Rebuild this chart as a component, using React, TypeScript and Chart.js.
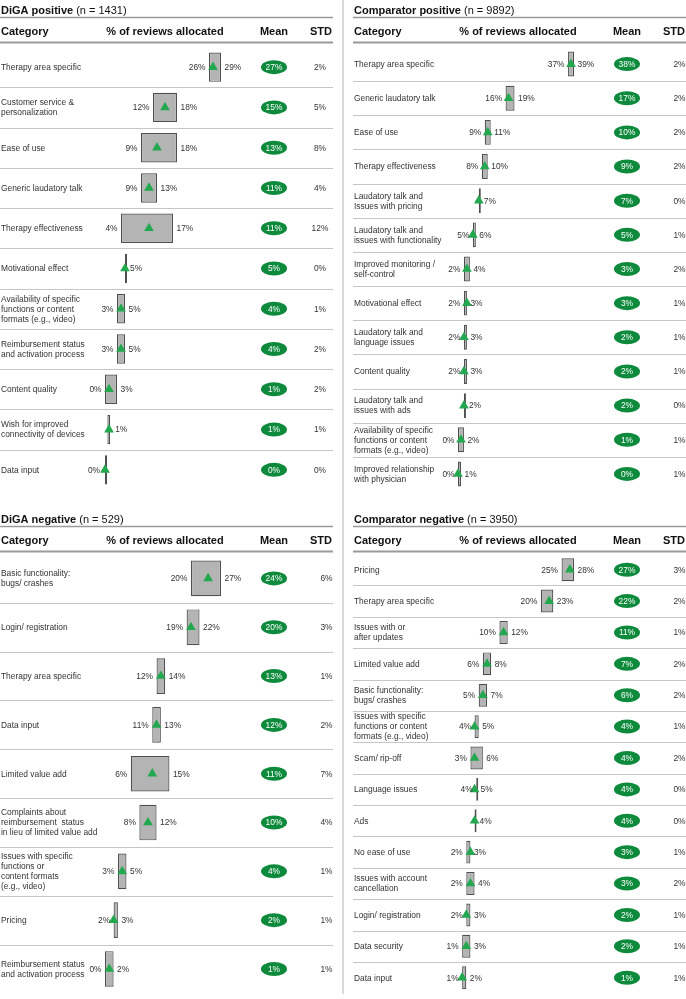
import React, { useEffect, useRef } from "react";
import { Chart, registerables } from "chart.js";

Chart.register(...registerables);

const FONT = '"Liberation Sans", Arial, Helvetica, sans-serif';
const TRI_GREEN = "#22a84e";
const MEAN_GREEN = "#0e8a3c";
const W = 333;

// ---------- DiGA positive ----------
const digaPosTitle = "DiGA positive";
const digaPosN = "(n = 1431)";
const digaPosCategories: string[][] = [
  ["Therapy area specific"],
  ["Customer service &", "personalization"],
  ["Ease of use"],
  ["Generic laudatory talk"],
  ["Therapy effectiveness"],
  ["Motivational effect"],
  ["Availability of specific", "functions or content", "formats (e.g., video)"],
  ["Reimbursement status", "and activation process"],
  ["Content quality"],
  ["Wish for improved", "connectivity of devices"],
  ["Data input"],
];
const digaPosMin = [26, 12, 9, 9, 4, 5, 3, 3, 0, 0.6, 0];
const digaPosMax = [29, 18, 18, 13, 17, 5, 5, 5, 3, 1.3, 0];
const digaPosMean = [27, 15, 13, 11, 11, 5, 4, 4, 1, 1, 0];
const digaPosStd = [2, 5, 8, 4, 12, 0, 1, 2, 2, 1, 0];

// ---------- Comparator positive ----------
const compPosTitle = "Comparator positive";
const compPosN = "(n = 9892)";
const compPosCategories: string[][] = [
  ["Therapy area specific"],
  ["Generic laudatory talk"],
  ["Ease of use"],
  ["Therapy effectiveness"],
  ["Laudatory talk and", "Issues with pricing"],
  ["Laudatory talk and", "issues with functionality"],
  ["Improved monitoring /", "self-control"],
  ["Motivational effect"],
  ["Laudatory talk and", "language issues"],
  ["Content quality"],
  ["Laudatory talk and", "issues with ads"],
  ["Availability of specific", "functions or content", "formats (e.g., video)"],
  ["Improved relationship", "with physician"],
];
const compPosMin = [37, 16, 9, 8, 7, 5, 2, 2, 2, 2, 2, 0, 0];
const compPosMax = [39, 19, 11, 10, 7, 6, 4, 3, 3, 3, 2, 2, 1];
const compPosMean = [38, 17, 10, 9, 7, 5, 3, 3, 2, 2, 2, 1, 0];
const compPosStd = [2, 2, 2, 2, 0, 1, 2, 1, 1, 1, 0, 1, 1];

// ---------- DiGA negative ----------
const digaNegTitle = "DiGA negative";
const digaNegN = "(n = 529)";
const digaNegCategories: string[][] = [
  ["Basic functionality:", "bugs/ crashes"],
  ["Login/ registration"],
  ["Therapy area specific"],
  ["Data input"],
  ["Limited value add"],
  ["Complaints about", "reimbursement  status", "in lieu of limited value add"],
  ["Issues with specific", "functions or", "content formats", "(e.g., video)"],
  ["Pricing"],
  ["Reimbursement status", "and activation process"],
];
const digaNegMin = [20, 19, 12, 11, 6, 8, 3, 2, 0];
const digaNegMax = [27, 22, 14, 13, 15, 12, 5, 3, 2];
const digaNegMean = [24, 20, 13, 12, 11, 10, 4, 2, 1];
const digaNegStd = [6, 3, 1, 2, 7, 4, 1, 1, 1];

// ---------- Comparator negative ----------
const compNegTitle = "Comparator negative";
const compNegN = "(n = 3950)";
const compNegCategories: string[][] = [
  ["Pricing"],
  ["Therapy area specific"],
  ["Issues with or", "after updates"],
  ["Limited value add"],
  ["Basic functionality:", "bugs/ crashes"],
  ["Issues with specific", "functions or content", "formats (e.g., video)"],
  ["Scam/ rip-off"],
  ["Language issues"],
  ["Ads"],
  ["No ease of use"],
  ["Issues with account", "cancellation"],
  ["Login/ registration"],
  ["Data security"],
  ["Data input"],
];
const compNegMin = [25, 20, 10, 6, 5, 4, 3, 4.4, 4, 2, 2, 2, 1, 1];
const compNegMax = [28, 23, 12, 8, 7, 5, 6, 4.6, 4, 3, 4, 3, 3, 2];
const compNegMean = [27, 22, 11, 7, 6, 4, 4, 4, 4, 3, 3, 2, 2, 1];
const compNegStd = [3, 2, 1, 2, 2, 1, 2, 0, 0, 1, 2, 1, 1, 1];

type PanelSpec = {
  title: string;
  n: string;
  categories: string[][];
  mins: number[];
  maxs: number[];
  means: number[];
  stds: number[];
  left: number;
  top: number;
  height: number;
  padTop: number;
  padBottom: number;
  stdX: number;
};

const panels: PanelSpec[] = [
  { title: digaPosTitle, n: digaPosN, categories: digaPosCategories, mins: digaPosMin, maxs: digaPosMax, means: digaPosMean, stds: digaPosStd, left: 0, top: 0, height: 500, padTop: 47, padBottom: 10, stdX: 320 },
  { title: compPosTitle, n: compPosN, categories: compPosCategories, mins: compPosMin, maxs: compPosMax, means: compPosMean, stds: compPosStd, left: 353, top: 0, height: 500, padTop: 47, padBottom: 9, stdX: 326.5 },
  { title: digaNegTitle, n: digaNegN, categories: digaNegCategories, mins: digaNegMin, maxs: digaNegMax, means: digaNegMean, stds: digaNegStd, left: 0, top: 509, height: 490, padTop: 45, padBottom: 1, stdX: 326.5 },
  { title: compNegTitle, n: compNegN, categories: compNegCategories, mins: compNegMin, maxs: compNegMax, means: compNegMean, stds: compNegStd, left: 353, top: 509, height: 490, padTop: 45, padBottom: 2, stdX: 326.5 },
];

function hline(ctx: CanvasRenderingContext2D, x0: number, x1: number, y: number, color: string, w: number) {
  ctx.beginPath();
  ctx.strokeStyle = color;
  ctx.lineWidth = w;
  ctx.moveTo(x0, y);
  ctx.lineTo(x1, y);
  ctx.stroke();
}

function Panel({ p }: { p: PanelSpec }) {
  const ref = useRef<HTMLCanvasElement | null>(null);

  useEffect(() => {
    const canvas = ref.current;
    if (!canvas) return;
    const maxVal = Math.max(...p.maxs);

    const tablePlugin = {
      id: "tableDecor",
      afterDraw(chart: any) {
        const ctx: CanvasRenderingContext2D = chart.ctx;
        const xs = chart.scales.x;
        const ys = chart.scales.y;
        const area = chart.chartArea;
        const n = p.categories.length;
        const rowH = (area.bottom - area.top) / n;
        ctx.save();
        ctx.textBaseline = "middle";

        // Title
        ctx.textAlign = "left";
        ctx.fillStyle = "#111";
        ctx.font = `bold 11px ${FONT}`;
        ctx.fillText(p.title, 1, 10.5);
        const tw = ctx.measureText(p.title).width;
        ctx.font = `11px ${FONT}`;
        const sw = ctx.measureText(" ").width;
        ctx.fillText(p.n, 1 + tw + sw, 10.5);
        hline(ctx, 0, W, 17.5, "#9a9a9a", 1.5);

        // Column headers
        ctx.font = `bold 11px ${FONT}`;
        ctx.fillStyle = "#111";
        ctx.textAlign = "left";
        ctx.fillText("Category", 1, 31.5);
        ctx.textAlign = "center";
        ctx.fillText("% of reviews allocated", 165, 31.5);
        ctx.fillText("Mean", 274, 31.5);
        ctx.textAlign = "right";
        ctx.fillText("STD", 332, 31.5);
        hline(ctx, 0, W, 42.5, "#9a9a9a", 2);

        // Row separators
        for (let i = 1; i < n; i++) {
          const y = Math.round(area.top + i * rowH) + 0.5;
          hline(ctx, 0, W, y, "#c6c6c6", 1.2);
        }

        for (let i = 0; i < n; i++) {
          const cy = ys.getPixelForValue(i);
          // Category text
          ctx.font = `8.4px ${FONT}`;
          ctx.fillStyle = "#333";
          ctx.textAlign = "left";
          const lines = p.categories[i];
          const lh = 10;
          const y0 = cy - ((lines.length - 1) * lh) / 2;
          lines.forEach((t, k) => ctx.fillText(t, 1, y0 + k * lh + 0.5));

          // Range labels
          const lo = Math.round(p.mins[i]);
          const hi = Math.round(p.maxs[i]);
          const xl = xs.getPixelForValue(p.mins[i]);
          const xr = xs.getPixelForValue(p.maxs[i]);
          if (lo === hi) {
            if (hi === 0) {
              ctx.textAlign = "right";
              ctx.fillText(`${lo}%`, xl - 5, cy + 0.5);
            } else {
              ctx.textAlign = "left";
              ctx.fillText(`${hi}%`, xr + 5, cy + 0.5);
            }
          } else {
            ctx.textAlign = "right";
            ctx.fillText(`${lo}%`, xl - 3.5, cy + 0.5);
            ctx.textAlign = "left";
            ctx.fillText(`${hi}%`, xr + 3.5, cy + 0.5);
          }

          // Mean ellipse
          ctx.beginPath();
          ctx.fillStyle = MEAN_GREEN;
          ctx.ellipse(274, cy, 13, 7, 0, 0, Math.PI * 2);
          ctx.fill();
          ctx.fillStyle = "#fff";
          ctx.textAlign = "center";
          ctx.fillText(`${p.means[i]}%`, 274, cy + 0.5);

          // STD
          ctx.fillStyle = "#333";
          ctx.textAlign = "center";
          ctx.fillText(`${p.stds[i]}%`, p.stdX, cy + 0.5);
        }
        ctx.restore();
      },
    };

    const chart = new Chart(canvas, {
      type: "bar",
      data: {
        labels: p.categories as any,
        datasets: [
          {
            type: "line",
            label: "Mean",
            data: p.means,
            indexAxis: "y",
            showLine: false,
            pointStyle: "triangle",
            pointRadius: 5.6,
            pointHoverRadius: 5.6,
            pointBackgroundColor: TRI_GREEN,
            pointBorderColor: TRI_GREEN,
            pointBorderWidth: 0,
            borderWidth: 0,
            clip: false,
            order: 0,
          } as any,
          {
            type: "bar",
            label: "Range",
            data: p.mins.map((m, i) => [m, p.maxs[i]]),
            backgroundColor: "#b4b4b4",
            borderColor: "#4f4f4f",
            borderWidth: 1.2,
            borderSkipped: false,
            barPercentage: 0.73,
            categoryPercentage: 1,
            minBarLength: 2,
            clip: false,
            order: 1,
          } as any,
        ],
      },
      options: {
        indexAxis: "y",
        responsive: false,
        maintainAspectRatio: false,
        animation: false,
        events: [],
        devicePixelRatio: 1,
        layout: { padding: { left: 105, right: W - 221, top: p.padTop, bottom: p.padBottom } },
        scales: {
          x: { type: "linear", display: false, min: 0, max: maxVal },
          y: { type: "category", display: false, offset: true },
        },
        plugins: { legend: { display: false }, tooltip: { enabled: false } },
      } as any,
      plugins: [tablePlugin],
    });
    return () => chart.destroy();
  }, [p]);

  return (
    <canvas
      ref={ref}
      width={W}
      height={p.height}
      style={{ position: "absolute", left: p.left, top: p.top, width: W, height: p.height }}
    />
  );
}

export default function App() {
  return (
    <div
      style={{
        position: "absolute",
        left: 0,
        top: 0,
        width: 686,
        height: 999,
        overflow: "hidden",
        background: "#fff",
      }}
    >
      {panels.map((p) => (
        <Panel key={p.title} p={p} />
      ))}
      <div style={{ position: "absolute", left: 342, top: 0, width: 2, height: 994, background: "#dadada" }} />
    </div>
  );
}
